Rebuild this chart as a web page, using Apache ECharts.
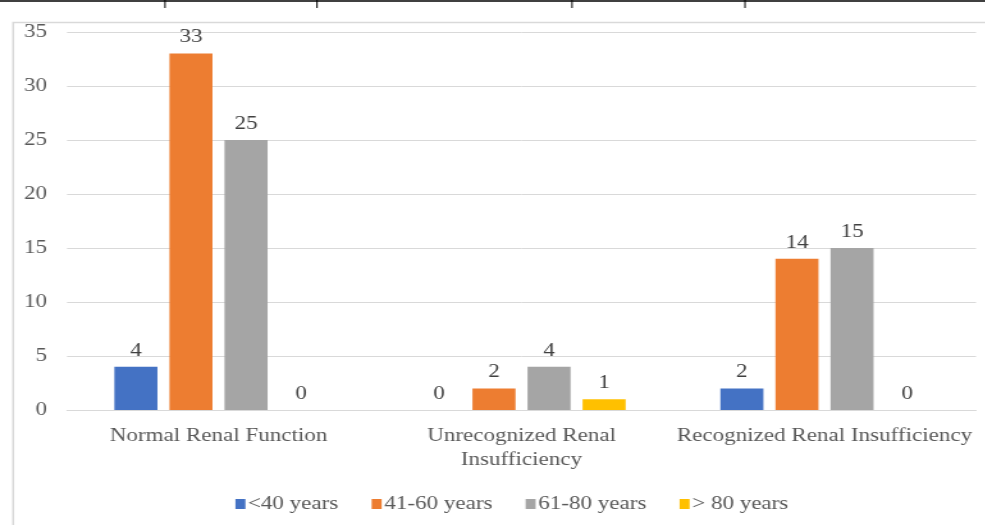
<!DOCTYPE html>
<html>
<head>
<meta charset="utf-8">
<script src="https://cdn.jsdelivr.net/npm/echarts@6/dist/echarts.min.js"></script>
<style>
  html, body { margin: 0; padding: 0; background: #fff; overflow: hidden; }
  #wrap { position: absolute; left: 0; top: 0; width: 985px; height: 525px; overflow: hidden; }
  /* the figure's typeface is set wide, so the chart is laid out narrower and stretched horizontally */
  #chart { position: absolute; left: 0; top: 0; width: 770px; height: 525px; transform: scaleX(1.28); transform-origin: 0 0; }
</style>
</head>
<body>
<div id="wrap"><div id="chart"></div></div>
<script>
const categories = ['Normal Renal Function', 'Unrecognized Renal Insufficiency', 'Recognized Renal Insufficiency'];
const seriesNames = ['<40 years', '41-60 years', '61-80 years', '> 80 years'];
const under40 = [4, 0, 2];
const age41to60 = [33, 2, 14];
const age61to80 = [25, 4, 15];
const over80 = [0, 1, 0];
const yTicks = [0, 5, 10, 15, 20, 25, 30, 35];

const colors = ['#4472C4', '#ED7D31', '#A5A5A5', '#FFC000'];
const seriesValues = [under40, age41to60, age61to80, over80];
const font = '"Liberation Serif", "Times New Roman", serif';
const SX = 1.28;
const cx = x => x / SX;   // page x to chart x

const chart = echarts.init(document.getElementById('chart'), null, { renderer: 'canvas' });

chart.setOption({
  backgroundColor: '#fff',
  animation: false,
  textStyle: { fontFamily: font },
  grid: { left: cx(67), right: 770 - cx(976), top: 32, bottom: 525 - 410, containLabel: false },
  legend: {
    left: cx(229), top: 490,
    itemWidth: cx(10), itemHeight: 10, itemGap: 26,
    icon: 'rect',
    textStyle: { fontFamily: font, fontSize: 18, color: '#595959', padding: [0, 0, 0, -3] },
    data: seriesNames
  },
  xAxis: {
    type: 'category',
    data: categories,
    axisLine: { show: true, lineStyle: { color: '#d9d9d9', width: 1 } },
    axisTick: { show: false },
    axisLabel: {
      interval: 0, margin: 14, fontFamily: font, fontSize: 18, color: '#595959', lineHeight: 24,
      formatter: v => v === 'Unrecognized Renal Insufficiency' ? 'Unrecognized Renal\nInsufficiency' : v
    }
  },
  yAxis: {
    type: 'value',
    min: yTicks[0], max: yTicks[yTicks.length - 1], interval: 5,
    axisLine: { show: false },
    axisTick: { show: false },
    splitLine: { lineStyle: { color: '#d9d9d9', width: 1 } },
    axisLabel: { margin: cx(20), fontFamily: font, fontSize: 18, color: '#595959' }
  },
  series: seriesNames.map((name, i) => ({
    name,
    type: 'bar',
    data: seriesValues[i],
    barWidth: '14.2%',
    barGap: '28%',
    itemStyle: { color: colors[i] },
    label: { show: true, position: 'top', distance: 7, fontFamily: font, fontSize: 18, color: '#404040' }
  })),
  graphic: [
    // frame around the chart area
    { type: 'rect', left: cx(10), top: 20, shape: { width: 800, height: 520 },
      style: { fill: 'none', stroke: '#d9d9d9', lineWidth: 1.5 }, silent: true },
    // table rule at the top with its cell dividers
    { type: 'line', shape: { x1: 0, y1: 1, x2: 770, y2: 1 }, style: { stroke: '#000', lineWidth: 1.5 } },
    ...[165, 317, 572, 745].map(x => ({
      type: 'line', shape: { x1: cx(x), y1: 0, x2: cx(x), y2: 8 }, style: { stroke: '#000', lineWidth: 1 }
    }))
  ]
});
</script>
</body>
</html>
